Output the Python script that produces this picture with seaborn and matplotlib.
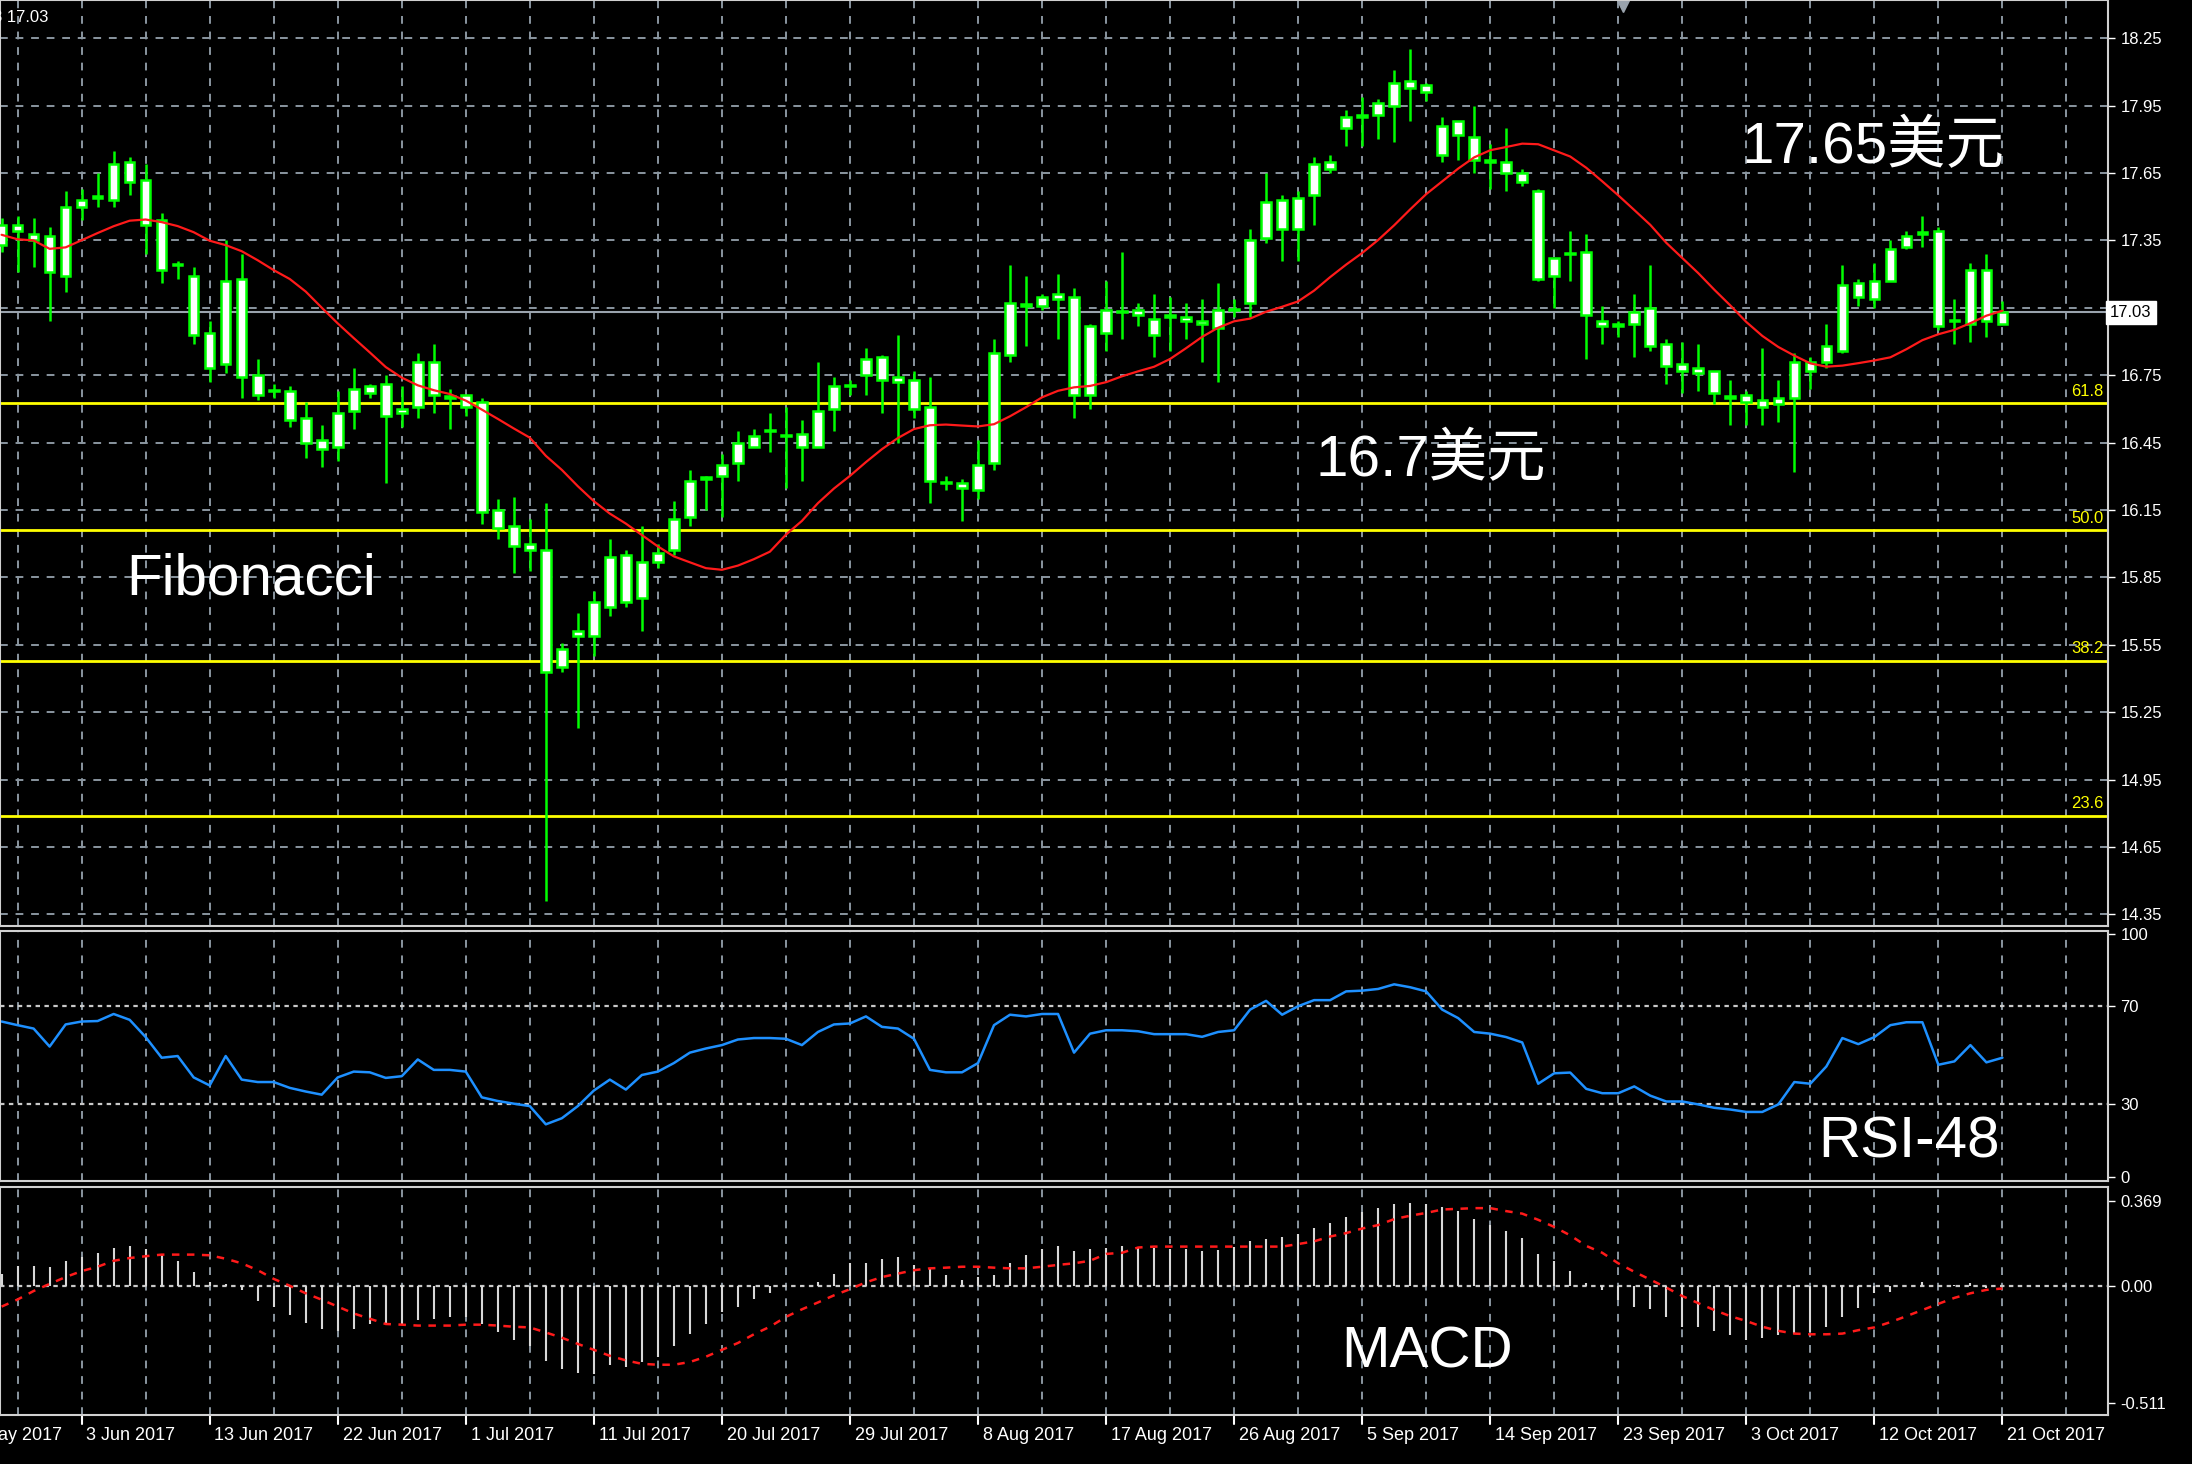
import matplotlib
matplotlib.use("Agg")
import matplotlib.pyplot as plt
import matplotlib.transforms as mtransforms
import numpy as np
import pandas as pd
import seaborn as sns

# candle bodies (upper / lower edge), highs and lows, one row per day
candles = [
    (17.42, 17.33, 17.45, 17.30), (17.42, 17.39, 17.46, 17.21), (17.38, 17.35, 17.45, 17.23),
    (17.37, 17.21, 17.41, 16.99), (17.50, 17.19, 17.57, 17.12), (17.53, 17.50, 17.58, 17.44),
    (17.54, 17.54, 17.65, 17.50), (17.69, 17.53, 17.75, 17.50), (17.70, 17.61, 17.72, 17.55),
    (17.62, 17.42, 17.69, 17.29), (17.44, 17.22, 17.47, 17.16), (17.24, 17.24, 17.26, 17.18),
    (17.19, 16.93, 17.23, 16.89), (16.94, 16.78, 16.99, 16.72), (17.17, 16.80, 17.35, 16.76),
    (17.18, 16.74, 17.29, 16.65), (16.75, 16.66, 16.82, 16.64), (16.68, 16.68, 16.71, 16.65),
    (16.68, 16.55, 16.70, 16.52), (16.56, 16.45, 16.63, 16.38), (16.46, 16.42, 16.53, 16.34),
    (16.58, 16.43, 16.68, 16.37), (16.69, 16.59, 16.78, 16.51), (16.70, 16.67, 16.71, 16.65),
    (16.71, 16.57, 16.75, 16.27), (16.60, 16.58, 16.70, 16.52), (16.81, 16.61, 16.85, 16.56),
    (16.81, 16.66, 16.89, 16.58), (16.65, 16.65, 16.69, 16.51), (16.66, 16.61, 16.66, 16.57),
    (16.63, 16.14, 16.65, 16.09), (16.15, 16.07, 16.20, 16.02), (16.08, 15.99, 16.21, 15.87),
    (16.00, 15.97, 16.11, 15.88), (15.97, 15.43, 16.18, 14.41), (15.53, 15.45, 15.56, 15.43),
    (15.61, 15.59, 15.69, 15.18), (15.74, 15.59, 15.79, 15.50), (15.94, 15.72, 16.02, 15.68),
    (15.95, 15.74, 15.97, 15.72), (15.92, 15.76, 16.08, 15.61), (15.96, 15.92, 16.00, 15.89),
    (16.11, 15.97, 16.19, 15.95), (16.28, 16.12, 16.33, 16.08), (16.29, 16.29, 16.30, 16.15),
    (16.35, 16.30, 16.40, 16.12), (16.45, 16.36, 16.50, 16.28), (16.48, 16.43, 16.51, 16.43),
    (16.50, 16.50, 16.58, 16.41), (16.48, 16.48, 16.61, 16.25), (16.49, 16.43, 16.55, 16.28),
    (16.59, 16.43, 16.81, 16.43), (16.70, 16.60, 16.74, 16.50), (16.70, 16.70, 16.73, 16.66),
    (16.82, 16.75, 16.87, 16.66), (16.83, 16.73, 16.84, 16.58), (16.74, 16.72, 16.93, 16.45),
    (16.73, 16.60, 16.77, 16.56), (16.61, 16.28, 16.74, 16.18), (16.27, 16.27, 16.30, 16.24),
    (16.27, 16.25, 16.29, 16.10), (16.35, 16.24, 16.46, 16.20), (16.85, 16.36, 16.91, 16.33),
    (17.07, 16.84, 17.24, 16.81), (17.06, 17.06, 17.19, 16.88), (17.10, 17.06, 17.11, 17.04),
    (17.11, 17.09, 17.20, 16.91), (17.10, 16.66, 17.14, 16.56), (16.97, 16.66, 16.98, 16.60),
    (17.04, 16.94, 17.17, 16.86), (17.03, 17.03, 17.30, 16.91), (17.04, 17.02, 17.07, 16.97),
    (17.00, 16.93, 17.11, 16.83), (17.01, 17.01, 17.10, 16.86), (17.01, 16.99, 17.07, 16.91),
    (16.99, 16.98, 17.09, 16.81), (17.04, 16.96, 17.16, 16.72), (17.04, 17.04, 17.09, 17.01),
    (17.35, 17.07, 17.40, 17.01), (17.52, 17.36, 17.65, 17.34), (17.53, 17.40, 17.55, 17.26),
    (17.54, 17.40, 17.57, 17.26), (17.69, 17.55, 17.72, 17.42), (17.70, 17.67, 17.73, 17.65),
    (17.90, 17.85, 17.93, 17.77), (17.90, 17.90, 17.99, 17.77), (17.96, 17.91, 17.98, 17.80),
    (18.05, 17.95, 18.11, 17.79), (18.06, 18.03, 18.20, 17.88), (18.04, 18.01, 18.05, 17.97),
    (17.86, 17.73, 17.90, 17.70), (17.88, 17.82, 17.88, 17.71), (17.81, 17.71, 17.95, 17.65),
    (17.70, 17.70, 17.78, 17.58), (17.70, 17.65, 17.85, 17.57), (17.65, 17.61, 17.67, 17.59),
    (17.57, 17.18, 17.58, 17.17), (17.27, 17.19, 17.27, 17.05), (17.29, 17.29, 17.39, 17.17),
    (17.30, 17.02, 17.38, 16.82), (16.99, 16.97, 17.06, 16.89), (16.97, 16.97, 16.99, 16.92),
    (17.03, 16.98, 17.11, 16.83), (17.05, 16.88, 17.24, 16.86), (16.89, 16.79, 16.91, 16.71),
    (16.80, 16.77, 16.90, 16.67), (16.78, 16.76, 16.89, 16.68), (16.77, 16.67, 16.77, 16.62),
    (16.65, 16.65, 16.73, 16.53), (16.66, 16.63, 16.68, 16.53), (16.64, 16.61, 16.87, 16.53),
    (16.65, 16.62, 16.73, 16.54), (16.81, 16.65, 16.85, 16.32), (16.81, 16.77, 16.83, 16.69),
    (16.88, 16.81, 16.98, 16.78), (17.15, 16.86, 17.24, 16.85), (17.16, 17.10, 17.18, 17.06),
    (17.17, 17.09, 17.25, 17.05), (17.31, 17.17, 17.35, 17.17), (17.37, 17.32, 17.39, 17.31),
    (17.38, 17.38, 17.46, 17.32), (17.39, 16.97, 17.41, 16.95), (16.99, 16.99, 17.09, 16.89),
    (17.22, 16.98, 17.25, 16.90), (17.22, 16.99, 17.29, 16.92), (17.03, 16.98, 17.08, 16.98),
]

rsi = [
    63.8, 62.3, 60.9, 53.5, 62.6, 63.8, 64, 66.9, 64.5, 57.4,
    48.9, 49.6, 40.8, 37.5, 49.6, 39.9, 38.9, 38.9, 36.5, 35,
    33.7, 40.8, 43.2, 42.9, 40.6, 41.3, 48.2, 43.9, 43.9, 43.2,
    32.6, 31.1, 30, 29, 21.5, 24, 29, 35.4, 39.9, 35.8,
    41.8, 43.2, 46.7, 51, 52.7, 54.1, 56.4, 57, 57, 56.7,
    54.1, 59.5, 62.6, 63, 65.9, 61.6, 60.9, 56.7, 43.9, 42.9,
    42.9, 46.7, 62.3, 66.6, 65.9, 66.9, 66.9, 51, 58.8,
    60.2, 60.2, 59.8, 58.6, 58.6, 58.6, 57.5, 59.5, 60.2, 68.7,
    72.3, 66.6, 70.1, 72.6, 72.6, 76.2, 76.5, 77.2, 79.1, 77.9,
    76.2, 68.7, 65.2, 59.5, 58.8, 57.4, 55.2, 38.2, 42.5, 42.8,
    36.1, 34.3, 34.3, 37.1, 33.3, 30.9, 30.9, 29.7, 28.3, 27.6,
    26.6, 26.6, 29.7, 38.9, 38.2, 45.3, 57, 54.5, 57.4, 62.3,
    63.5, 63.5, 46, 47.4, 54.1, 47, 48.9,
]

macd_hist = [
    0.053, 0.088, 0.088, 0.083, 0.106, 0.124, 0.144, 0.167, 0.174, 0.159,
    0.136, 0.106, 0.061, 0.015, 0.008, -0.018, -0.068, -0.091, -0.129, -0.164,
    -0.189, -0.197, -0.189, -0.167, -0.167, -0.167, -0.151, -0.144, -0.136, -0.136,
    -0.167, -0.204, -0.235, -0.265, -0.330, -0.363, -0.379, -0.386, -0.348, -0.356,
    -0.333, -0.310, -0.265, -0.212, -0.167, -0.114, -0.091, -0.058, -0.030, 0.0,
    0.003, 0.018, 0.053, 0.098, 0.098, 0.118, 0.124, 0.091, 0.076, 0.045,
    0.027, 0.038, 0.048, 0.098, 0.133, 0.159, 0.174, 0.151, 0.159,
    0.167, 0.174, 0.167, 0.167, 0.159, 0.159, 0.151, 0.154, 0.170, 0.197,
    0.204, 0.212, 0.227, 0.254, 0.276, 0.300, 0.321, 0.341, 0.356, 0.360,
    0.356, 0.345, 0.326, 0.291, 0.265, 0.239, 0.209, 0.139, 0.106, 0.064,
    0.012, -0.018, -0.064, -0.091, -0.103, -0.136, -0.179, -0.179, -0.197, -0.215,
    -0.235, -0.230, -0.215, -0.212, -0.200, -0.179, -0.136, -0.098, -0.033, -0.027,
    0.0, 0.015, 0.0, 0.003, 0.012, -0.008, 0.0,
]

macd_signal = [
    -0.091, -0.06, -0.023, 0.008, 0.038, 0.064, 0.083, 0.109, 0.121, 0.129,
    0.136, 0.136, 0.136, 0.133, 0.118, 0.098, 0.068, 0.030, 0.0, -0.033,
    -0.061, -0.091, -0.121, -0.144, -0.167, -0.170, -0.174, -0.174, -0.174, -0.170,
    -0.170, -0.174, -0.179, -0.182, -0.204, -0.227, -0.254, -0.280, -0.306, -0.326,
    -0.341, -0.345, -0.345, -0.333, -0.310, -0.280, -0.250, -0.212, -0.179, -0.136,
    -0.103, -0.073, -0.042, -0.015, 0.015, 0.038, 0.053, 0.068, 0.076, 0.079,
    0.083, 0.083, 0.079, 0.076, 0.076, 0.083, 0.091, 0.098, 0.109,
    0.139, 0.144, 0.167, 0.171, 0.171, 0.171, 0.171, 0.171, 0.171, 0.171, 0.171, 0.171,
    0.182, 0.194, 0.215, 0.230, 0.250, 0.265, 0.291, 0.306, 0.318, 0.333,
    0.336, 0.339, 0.339, 0.326, 0.315, 0.288, 0.257, 0.220, 0.174, 0.144,
    0.098, 0.061, 0.027, -0.008, -0.045, -0.076, -0.106, -0.133, -0.154, -0.179,
    -0.197, -0.209, -0.212, -0.212, -0.209, -0.194, -0.182, -0.159, -0.133, -0.106,
    -0.079, -0.053, -0.033, -0.018, -0.012,
]

fib_levels = [61.8, 50.0, 38.2, 23.6]
fib_prices = [16.625, 16.06, 15.48, 14.79]
price_ticks = [18.25, 17.95, 17.65, 17.35, 16.75, 16.45, 16.15, 15.85, 15.55, 15.25, 14.95, 14.65, 14.35]
date_labels = ["25 May 2017", "3 Jun 2017", "13 Jun 2017", "22 Jun 2017", "1 Jul 2017",
               "11 Jul 2017", "20 Jul 2017", "29 Jul 2017", "8 Aug 2017", "17 Aug 2017",
               "26 Aug 2017", "5 Sep 2017", "14 Sep 2017", "23 Sep 2017", "3 Oct 2017",
               "12 Oct 2017", "21 Oct 2017"]
date_pos = [-3, 5, 13, 21, 29, 37, 45, 53, 61, 69, 77, 85, 93, 101, 109, 117, 125]
last_price = 17.03

df = pd.DataFrame(candles, columns=["top", "bottom", "high", "low"])
df["idx"] = np.arange(len(df))
df["ma"] = ((df["high"] + df["low"]) / 2).rolling(15, min_periods=1).mean()

sns.set_theme(style="dark")
plt.rcParams.update({
    "figure.facecolor": "black", "axes.facecolor": "black", "axes.edgecolor": "#d0d0d0",
    "text.color": "white", "xtick.color": "white", "ytick.color": "white",
})
plt.rcParams["font.family"] = ["Liberation Sans", "Noto Sans CJK SC", "DejaVu Sans"]

fig = plt.figure(figsize=(21.92, 14.64), dpi=100)
R = 0.9617
ax = fig.add_axes([0, 0.3677, R, 0.6323])
ax_rsi = fig.add_axes([0, 0.193, R, 0.171])
ax_macd = fig.add_axes([0, 0.0334, R, 0.1556])
XL = (-0.1, 131.6)
grid_x = np.arange(1, 132, 4)
GRID = dict(color="#8a96a0", lw=1.4, ls=(0, (4, 4)))

for a in (ax, ax_rsi, ax_macd):
    a.set_xlim(*XL)
    a.set_xticks([])
    a.grid(False)
    for gx in grid_x:
        a.axvline(gx, zorder=0, **GRID)
    a.yaxis.tick_right()
    a.tick_params(axis="y", labelsize=12, length=5, width=1, color="white", pad=4)
    for s in a.spines.values():
        s.set_linewidth(1.5)

# price panel
ax.set_ylim(14.30, 18.42)
for p in price_ticks + [17.05]:
    ax.axhline(p, zorder=0, **GRID)
ax.set_yticks(price_ticks)
ax.set_yticklabels([f"{p:.2f}" for p in price_ticks])
ax.axhline(last_price, color="#9aa3ad", lw=1.5, zorder=1)
for lvl, p in zip(fib_levels, fib_prices):
    ax.axhline(p, color="#ffff00", lw=2, zorder=1)
    ax.text(131.3, p + 0.02, f"{lvl:.1f}", color="#ffff00", fontsize=12, ha="right", va="bottom")

ax.vlines(df["idx"], df["low"], df["high"], color="#00ff00", lw=1.8, zorder=3)
ax.bar(df["idx"], np.maximum(df["top"] - df["bottom"], 0.006), bottom=df["bottom"], width=0.6,
       facecolor="white", edgecolor="#00ff00", linewidth=1.8, zorder=4)
sns.lineplot(data=df, x="idx", y="ma", ax=ax, color="#ff1a1a", lw=1.6, zorder=5)
ax.set_xlabel("")
ax.set_ylabel("")
ax.set_xlim(*XL)

ax.text(R + 0.001, last_price, f"{last_price:.2f}", transform=mtransforms.blended_transform_factory(fig.transFigure, ax.transData),
        color="black", fontsize=12, va="center", ha="left",
        bbox=dict(boxstyle="square,pad=0.25", facecolor="white", edgecolor="white"))
fig.text(-0.003, 0.988, "3 17.03", color="white", fontsize=12, va="center")
ax.plot([101.3], [18.40], marker="v", color="#9aa3ad", ms=11, clip_on=False)

ANN = dict(color="white", fontsize=42, va="center", ha="left")
ax.text(108.7, 17.76, "17.65美元", **ANN)
ax.text(82.1, 16.37, "16.7美元", **ANN)
ax.text(7.8, 15.84, "Fibonacci", **ANN)

# RSI panel
ax_rsi.set_ylim(-2, 101)
for v in (70, 30):
    ax_rsi.axhline(v, color="#c8c8c8", lw=1.6, ls=(0, (2, 2)), zorder=0)
rsi_df = pd.DataFrame({"idx": np.arange(len(rsi)), "rsi": rsi})
sns.lineplot(data=rsi_df, x="idx", y="rsi", ax=ax_rsi, color="#1e90ff", lw=1.8)
ax_rsi.set_yticks([100, 70, 30, 0])
ax_rsi.set_xlabel("")
ax_rsi.set_ylabel("")
ax_rsi.set_xlim(*XL)
ax_rsi.text(113.5, 14, "RSI-48", **ANN)

# MACD panel
ax_macd.set_ylim(-0.565, 0.43)
ax_macd.axhline(0, color="#c8c8c8", lw=1.6, ls=(0, (2, 2)), zorder=0)
ax_macd.vlines(np.arange(len(macd_hist)), 0, macd_hist, color="#d8d8d8", lw=1.5, zorder=2)
sig_df = pd.DataFrame({"idx": np.arange(len(macd_signal)), "sig": macd_signal})
sns.lineplot(data=sig_df, x="idx", y="sig", ax=ax_macd, color="#ff1a1a", lw=1.8, ls=(0, (3, 3)), zorder=3)
ax_macd.set_yticks([0.369, 0.0, -0.511])
ax_macd.set_yticklabels(["0.369", "0.00", "-0.511"])
ax_macd.set_xlabel("")
ax_macd.set_ylabel("")
ax_macd.set_xlim(*XL)
ax_macd.text(83.7, -0.29, "MACD", **ANN)

trans = mtransforms.blended_transform_factory(ax_macd.transData, ax_macd.transAxes)
for pos, lab in zip(date_pos, date_labels):
    ax_macd.plot([pos, pos], [0, -0.04], color="white", lw=1.5, transform=trans, clip_on=False)
    ax_macd.text(pos + 0.3, -0.09, lab, transform=trans, color="white", fontsize=13,
                 ha="left", va="center", clip_on=False)

fig.savefig("out.png", dpi=100, facecolor="black")
